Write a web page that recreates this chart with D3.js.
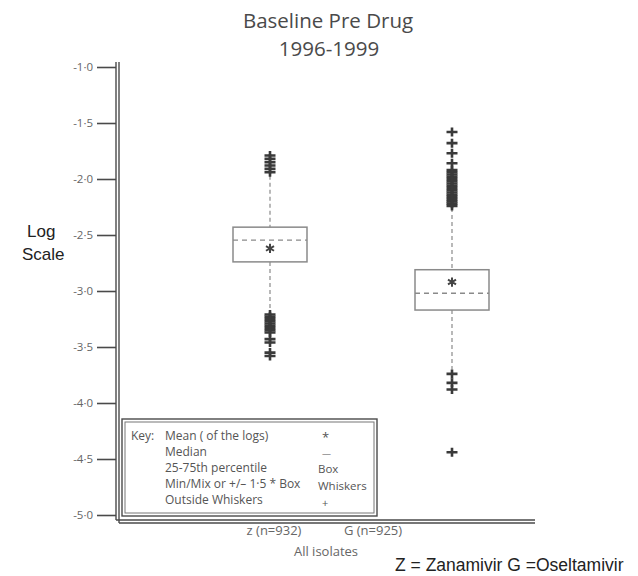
<!DOCTYPE html>
<html>
<head>
<meta charset="utf-8">
<script src="https://cdn.jsdelivr.net/npm/d3@7"></script>
<style>
  body { margin: 0; background: #fff; }
  svg text { font-family: "Open Sans", "Noto Sans", sans-serif; }
</style>
</head>
<body>
<div id="chart"></div>
<script>
// ---- data (log values) ----
var groups      = ["Z", "G"];
var groupLabels = ["z (n=932)", "G (n=925)"];
var q1          = [-2.74, -3.17];
var q3          = [-2.43, -2.81];
var medians     = [-2.545, -3.02];
var means       = [-2.62, -2.92];
var whiskerLow  = [-3.20, -3.70];
var whiskerHigh = [-1.97, -2.26];
var outliersZ   = [-1.79, -1.82, -1.85, -1.88, -1.91, -1.94,
                   -3.21, -3.23, -3.25, -3.27, -3.29, -3.31, -3.33, -3.35, -3.37, -3.43, -3.46, -3.55, -3.58];
var outliersG   = [-1.58, -1.68, -1.77, -1.86, -1.92, -1.94, -1.96, -1.98, -2.00, -2.02, -2.04, -2.06,
                   -2.08, -2.10, -2.12, -2.14, -2.16, -2.18, -2.20, -2.22, -2.24,
                   -3.74, -3.82, -3.88, -4.44];
var yTicks      = [-1.0, -1.5, -2.0, -2.5, -3.0, -3.5, -4.0, -4.5, -5.0];
var keyRows     = ["Mean ( of the logs)", "Median", "25-75th percentile", "Min/Mix or +/\u2013 1\u00b75 * Box", "Outside Whiskers"];
var keySymbols  = ["*", "\u2014", "Box", "Whiskers", "+"];

var outliers = [outliersZ, outliersG];

// ---- svg ----
var svg = d3.select("#chart").append("svg")
    .attr("width", 638)
    .attr("height", 576);

var y = d3.scaleLinear().domain([-5, -1]).range([515, 67]);
var x = d3.scalePoint().domain(groups).range([270, 452]);
// category labels sit a little off the boxes in the original
var xLab = d3.scalePoint().domain(groups).range([274, 373]);

var axisX = 116;
var axisColor = "#4a4a4a";
var boxColor = "#8a8a8a";
var sans = "'Liberation Sans', Arial, sans-serif";

// title
svg.append("text").attr("x", 328).attr("y", 28).attr("text-anchor", "middle")
    .attr("font-size", 20.5).attr("fill", "#4a4a4a").text("Baseline Pre Drug");
svg.append("text").attr("x", 329).attr("y", 56).attr("text-anchor", "middle")
    .attr("font-size", 20.5).attr("fill", "#4a4a4a").text("1996-1999");

// y label
svg.append("text").attr("x", 27).attr("y", 237).attr("font-size", 17)
    .style("font-family", sans).attr("fill", "#222").text("Log");
svg.append("text").attr("x", 22).attr("y", 260).attr("font-size", 17)
    .style("font-family", sans).attr("fill", "#222").text("Scale");

// y axis
var yAxis = d3.axisLeft(y)
    .tickValues(yTicks)
    .tickSize(19)
    .tickPadding(4)
    .tickFormat(function(d) { return d3.format(".1f")(d).replace("\u2212", "-").replace(".", "\u00b7"); });

var gy = svg.append("g").attr("transform", "translate(" + axisX + ",0)").call(yAxis);
gy.select(".domain").remove();
gy.selectAll(".tick line").attr("stroke", axisColor).attr("stroke-width", 1.6);
gy.selectAll(".tick text").attr("fill", "#666").attr("font-size", 11.5);

// double axis lines
[0, 3].forEach(function(o) {
    svg.append("line").attr("x1", axisX + o).attr("x2", axisX + o)
        .attr("y1", 62).attr("y2", 520 + o)
        .attr("stroke", axisColor).attr("stroke-width", 1.4);
    svg.append("line").attr("x1", axisX + o).attr("x2", 535)
        .attr("y1", 520 + o).attr("y2", 520 + o)
        .attr("stroke", axisColor).attr("stroke-width", 1.4);
});

// boxes
var halfW = 37;
var bx = svg.append("g").selectAll("g").data(groups).enter().append("g");

bx.append("line")
    .attr("x1", function(d) { return x(d); }).attr("x2", function(d) { return x(d); })
    .attr("y1", function(d, i) { return y(whiskerHigh[i]); })
    .attr("y2", function(d, i) { return y(q3[i]); })
    .attr("stroke", boxColor).attr("stroke-width", 1.2).attr("stroke-dasharray", "4,3");
bx.append("line")
    .attr("x1", function(d) { return x(d); }).attr("x2", function(d) { return x(d); })
    .attr("y1", function(d, i) { return y(q1[i]); })
    .attr("y2", function(d, i) { return y(whiskerLow[i]); })
    .attr("stroke", boxColor).attr("stroke-width", 1.2).attr("stroke-dasharray", "4,3");
bx.append("rect")
    .attr("x", function(d) { return x(d) - halfW; })
    .attr("width", halfW * 2)
    .attr("y", function(d, i) { return y(q3[i]); })
    .attr("height", function(d, i) { return y(q1[i]) - y(q3[i]); })
    .attr("fill", "none").attr("stroke", boxColor).attr("stroke-width", 1.5);
bx.append("line")
    .attr("x1", function(d) { return x(d) - halfW; }).attr("x2", function(d) { return x(d) + halfW; })
    .attr("y1", function(d, i) { return y(medians[i]); })
    .attr("y2", function(d, i) { return y(medians[i]); })
    .attr("stroke", boxColor).attr("stroke-width", 1.3).attr("stroke-dasharray", "5,4");
bx.append("path")
    .attr("transform", function(d, i) { return "translate(" + x(d) + "," + y(means[i]) + ")"; })
    .attr("d", d3.symbol(d3.symbolAsterisk, 60))
    .attr("fill", "none").attr("stroke", "#444").attr("stroke-width", 2);

// outliers
bx.selectAll(".out").data(function(d, i) { return outliers[i].map(function(v) { return {g: d, v: v}; }); })
    .enter().append("path").attr("class", "out")
    .attr("transform", function(d) { return "translate(" + x(d.g) + "," + y(d.v) + ")"; })
    .attr("d", "M-5.5,0H5.5M0,-4.5V4.5")
    .attr("stroke", "#3a3a3a").attr("stroke-width", 2.6).attr("fill", "none");

// x labels
svg.selectAll(".xlab").data(groups).enter().append("text").attr("class", "xlab")
    .attr("x", function(d) { return xLab(d); }).attr("y", 535)
    .attr("text-anchor", "middle").attr("font-size", 13).attr("fill", "#666")
    .text(function(d, i) { return groupLabels[i]; });
svg.append("text").attr("x", 326).attr("y", 556).attr("text-anchor", "middle")
    .attr("font-size", 13).attr("fill", "#666").text("All isolates");
svg.append("text").attr("x", 395).attr("y", 571).attr("font-size", 17.5)
    .style("font-family", sans).attr("fill", "#222")
    .text("Z = Zanamivir G =Oseltamivir");

// key box
var key = svg.append("g");
key.append("rect").attr("x", 122).attr("y", 419).attr("width", 255).attr("height", 97)
    .attr("fill", "#fff").attr("stroke", axisColor).attr("stroke-width", 1.4);
key.append("rect").attr("x", 125).attr("y", 422).attr("width", 249).attr("height", 91)
    .attr("fill", "none").attr("stroke", "#777").attr("stroke-width", 1);
key.append("text").attr("x", 131).attr("y", 440).attr("font-size", 12).attr("fill", "#555").text("Key:");
key.selectAll(".krow").data(keyRows).enter().append("text").attr("class", "krow")
    .attr("x", 165).attr("y", function(d, i) { return 440 + i * 16; })
    .attr("font-size", 12).attr("fill", "#555").text(function(d) { return d; });
var symY = [442, 457, 473, 490, 507];
var symSize = [13, 9, 11.5, 11.5, 11];
key.selectAll(".ksym").data(keySymbols).enter().append("text").attr("class", "ksym")
    .attr("x", function(d) { return d.length > 1 ? 318 : 322; })
    .attr("y", function(d, i) { return symY[i]; })
    .attr("font-size", function(d, i) { return symSize[i]; })
    .attr("fill", "#555").text(function(d) { return d; });
</script>
</body>
</html>
